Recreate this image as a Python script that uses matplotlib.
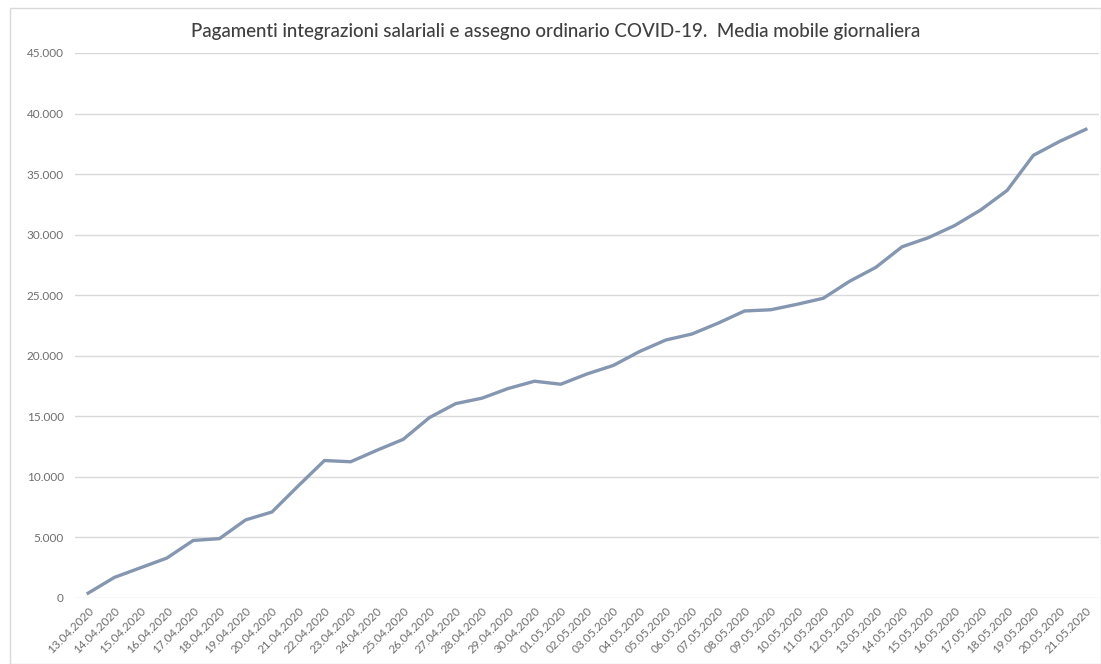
import matplotlib
matplotlib.use("Agg")
import matplotlib.pyplot as plt
from matplotlib.ticker import FuncFormatter, MultipleLocator
from matplotlib.patches import Rectangle

dates = ["13.04.2020", "14.04.2020", "15.04.2020", "16.04.2020", "17.04.2020",
         "18.04.2020", "19.04.2020", "20.04.2020", "21.04.2020", "22.04.2020",
         "23.04.2020", "24.04.2020", "25.04.2020", "26.04.2020", "27.04.2020",
         "28.04.2020", "29.04.2020", "30.04.2020", "01.05.2020", "02.05.2020",
         "03.05.2020", "04.05.2020", "05.05.2020", "06.05.2020", "07.05.2020",
         "08.05.2020", "09.05.2020", "10.05.2020", "11.05.2020", "12.05.2020",
         "13.05.2020", "14.05.2020", "15.05.2020", "16.05.2020", "17.05.2020",
         "18.05.2020", "19.05.2020", "20.05.2020", "21.05.2020"]
values = [400, 1700, 2500, 3300, 4750,
          4900, 6450, 7100, 9250, 11350,
          11250, 12200, 13100, 14900, 16050,
          16500, 17300, 17900, 17650, 18500,
          19200, 20350, 21300, 21800, 22700,
          23700, 23800, 24250, 24750, 26150,
          27300, 29000, 29750, 30750, 32050,
          33650, 36550, 37700, 38700]
title = "Pagamenti integrazioni salariali e assegno ordinario COVID-19.  Media mobile giornaliera"

plt.rcParams['font.family'] = ['Lato', 'DejaVu Sans']

fig = plt.figure(figsize=(11.01, 6.64), dpi=100)
fig.patches.append(Rectangle((10/1101, 0), 1 - 10/1101, 1 - 8/664, transform=fig.transFigure,
                             fill=False, edgecolor='#D9D9D9', linewidth=1))
ax = fig.add_axes([75/1101, 1 - 598/664, 1024/1101, (598 - 53)/664])

x = list(range(len(dates)))
ax.plot(x, values, color='#8496B0', linewidth=2.4, solid_joinstyle='round', zorder=3)

ax.set_xlim(-0.5, len(dates) - 0.5)
ax.set_ylim(0, 45000)
ax.yaxis.set_major_locator(MultipleLocator(5000))
ax.yaxis.set_major_formatter(FuncFormatter(lambda v, p: f"{int(v):,}".replace(",", ".")))
ax.grid(axis='y', color='#D9D9D9', linewidth=1)
ax.set_axisbelow(True)
for s in ax.spines.values():
    s.set_visible(False)
ax.tick_params(axis='both', length=0, colors='#6E6E6E', labelsize=8.5)
ax.tick_params(axis='y', pad=8)
ax.set_xticks(x)
ax.set_xticklabels(dates, rotation=45, ha='right', rotation_mode='anchor')
ax.tick_params(axis='x', pad=5)

fig.text(0.5 + 10/1101/2, 1 - 32/664, title, ha='center', va='center', fontsize=13.5,
         fontweight='medium', color='#404040')

fig.savefig("out.png", dpi=100, facecolor='white')
